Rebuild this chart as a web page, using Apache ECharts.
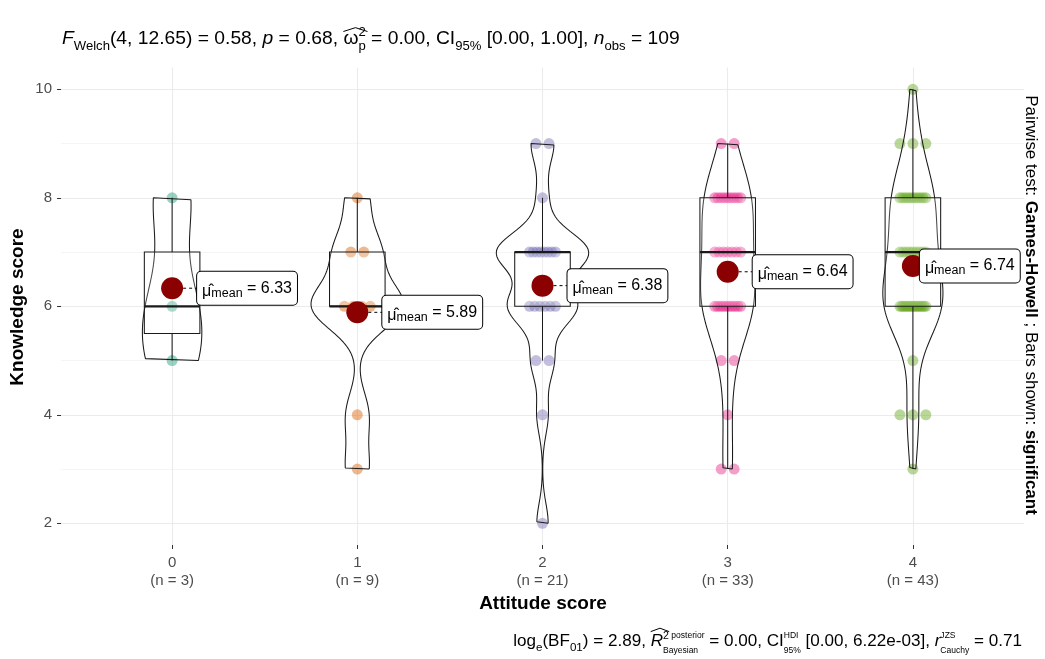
<!DOCTYPE html>
<html><head><meta charset="utf-8">
<script src="https://cdn.jsdelivr.net/npm/echarts@6/dist/echarts.min.js"></script>
<style>html,body{margin:0;padding:0;background:#fff}#c{width:1045px;height:659px}</style>
</head><body><div id="c"></div>
<script>
// ---------------- data ----------------
const categories = ['0', '1', '2', '3', '4'];
const group0 = [8, 6, 5];
const group1 = [8, 7, 7, 6, 6, 6, 6, 4, 3];
const group2 = [9, 9, 8, 7, 7, 7, 7, 7, 7, 7, 7, 6, 6, 6, 6, 6, 6, 5, 5, 4, 2];
const group3 = [9, 9, 8, 8, 8, 8, 8, 8, 8, 8, 8, 7, 7, 7, 7, 7, 7, 7,
                6, 6, 6, 6, 6, 6, 6, 6, 6, 6, 5, 5, 4, 3, 3];
const group4 = [10, 9, 9, 9, 8, 8, 8, 8, 8, 8, 8, 8, 8, 8, 7, 7, 7, 7, 7, 7, 7, 7, 7,
                6, 6, 6, 6, 6, 6, 6, 6, 6, 6, 6, 6, 6, 6, 6, 5, 4, 4, 4, 3];
const yTicks = [2, 4, 6, 8, 10];
const xTitle = 'Attitude score';
const yTitle = 'Knowledge score';

// ---------------- helpers ----------------
const groups = [group0, group1, group2, group3, group4];
const FONT = '"Liberation Sans", Arial, sans-serif';
const dark2 = ['#1B9E77', '#D95F02', '#7570B3', '#E7298A', '#66A61E'];
const LINE = '#1a1a1a';
const alpha = (hex, a) => {
  const n = parseInt(hex.slice(1), 16);
  return `rgba(${n >> 16},${(n >> 8) & 255},${n & 255},${a})`;
};
const mean = a => a.reduce((s, v) => s + v, 0) / a.length;
const sd = a => { const m = mean(a); return Math.sqrt(a.reduce((s, v) => s + (v - m) ** 2, 0) / (a.length - 1)); };
const q7 = (s, p) => { const h = (s.length - 1) * p, lo = Math.floor(h); return s[lo] + (h - lo) * (s[Math.min(lo + 1, s.length - 1)] - s[lo]); };
function bwNrd0(a) {
  const s = [...a].sort((x, y) => x - y);
  const hi = sd(a);
  let lo = Math.min(hi, (q7(s, .75) - q7(s, .25)) / 1.34);
  if (!(lo > 0)) lo = hi || 1;
  return 0.9 * lo * Math.pow(a.length, -0.2);
}
function kde(a, n) {
  const bw = bwNrd0(a), mn = Math.min(...a), mx = Math.max(...a), out = [];
  for (let k = 0; k < n; k++) {
    const y = mn + (mx - mn) * k / (n - 1);
    let d = 0;
    for (const v of a) { const z = (y - v) / bw; d += Math.exp(-0.5 * z * z); }
    out.push([y, d / (a.length * bw * Math.sqrt(2 * Math.PI))]);
  }
  return out;
}
function boxStats(a) {
  const s = [...a].sort((x, y) => x - y);
  const q1 = q7(s, .25), med = q7(s, .5), q3 = q7(s, .75), iqr = q3 - q1;
  const inside = s.filter(v => v >= q1 - 1.5 * iqr && v <= q3 + 1.5 * iqr);
  return [q1, med, q3, Math.min(...inside), Math.max(...inside)];
}

// ---------------- layout ----------------
const W = 1045, H = 659;
const L = 61, R = 1024, T = 67.6, B = 545;
const ux = (R - L) / 5.2, uy = (B - T) / 8.8;

// violins (scale = "area", width 0.5)
const dens = groups.map(g => kde(g, 256));
const maxD = Math.max(...dens.flat().map(p => p[1]));
const violinSeries = dens.map((d, i) => {
  const right = d.map(([y, v]) => [i + v / maxD * 0.25, y]);
  const left = d.slice().reverse().map(([y, v]) => [i - v / maxD * 0.25, y]);
  const pts = right.concat(left); pts.push(right[0]);
  return { type: 'line', xAxisIndex: 2, yAxisIndex: 2, data: pts, showSymbol: false, symbol: 'none',
    lineStyle: { color: LINE, width: 1.05 }, z: 3, silent: true, clip: false };
});

// jittered points (deterministic spread)
const pointSeries = groups.map((g, i) => {
  const counts = {};
  g.forEach(v => counts[v] = (counts[v] || 0) + 1);
  const data = [];
  Object.keys(counts).forEach(k => {
    const c = counts[k];
    const half = c === 1 ? 0 : Math.min(0.07, 0.035 * (c - 1));
    for (let j = 0; j < c; j++) {
      const off = c === 1 ? 0 : -half + 2 * half * j / (c - 1);
      data.push([i + off, +k]);
    }
  });
  return { type: 'scatter', xAxisIndex: 2, yAxisIndex: 2, data, symbolSize: 11,
    itemStyle: { color: alpha(dark2[i], 0.45), opacity: 1 }, z: 2, silent: true, clip: false };
});

const boxData = groups.map((g, i) => [i, ...boxStats(g)]);
const means = groups.map(g => mean(g));
const labelDx = [25, 25, 25, 25, 7];

const boxSeries = {
  type: 'custom', xAxisIndex: 2, yAxisIndex: 2, z: 4, silent: true, clip: false,
  data: boxData,
  renderItem(params, api) {
    const i = api.value(0), q1 = api.value(1), med = api.value(2), q3 = api.value(3), lo = api.value(4), hi = api.value(5);
    const a = api.coord([i - 0.15, q3]), b = api.coord([i + 0.15, q1]);
    const m0 = api.coord([i - 0.15, med]), m1 = api.coord([i + 0.15, med]);
    const c = api.coord([i, 0]);
    const yHi = api.coord([i, hi])[1], yLo = api.coord([i, lo])[1];
    const st = { stroke: LINE, lineWidth: 1.05, fill: null };
    return { type: 'group', children: [
      { type: 'rect', shape: { x: a[0], y: a[1], width: b[0] - a[0], height: b[1] - a[1] }, style: { fill: 'rgba(255,255,255,0.2)', stroke: LINE, lineWidth: 1.05 } },
      { type: 'line', shape: { x1: m0[0], y1: m0[1], x2: m1[0], y2: m1[1] }, style: { stroke: LINE, lineWidth: 2.2 } },
      { type: 'line', shape: { x1: c[0], y1: a[1], x2: c[0], y2: yHi }, style: st },
      { type: 'line', shape: { x1: c[0], y1: b[1], x2: c[0], y2: yLo }, style: st }
    ]};
  }
};

const meanSeries = {
  type: 'scatter', xAxisIndex: 2, yAxisIndex: 2, z: 5, silent: true,
  data: means.map((m, i) => [i, m]), symbolSize: 22, itemStyle: { color: '#8B0000', opacity: 1 }
};

const labelSeries = {
  type: 'custom', xAxisIndex: 2, yAxisIndex: 2, z: 6, silent: true, clip: false,
  data: means.map((m, i) => [i, m]),
  renderItem(params, api) {
    const i = api.value(0), m = api.value(1);
    const p = api.coord([i, m]);
    const dx = labelDx[i];
    return { type: 'group', children: [
      { type: 'line', shape: { x1: p[0] + 11, y1: p[1], x2: p[0] + dx, y2: p[1] }, style: { stroke: '#000', lineWidth: 1, lineDash: [3, 3] } },
      { type: 'text', x: p[0] + dx, y: p[1], z2: 10, style: {
        text: '{mu|\u03bc\u0302}{sb|mean}{v| = ' + m.toFixed(2) + '}',
        align: 'left', verticalAlign: 'middle',
        backgroundColor: '#fff', borderColor: '#000', borderWidth: 1, borderRadius: 4,
        padding: [5, 5, 5, 5],
        rich: {
          mu: { fontSize: 16, fontFamily: FONT, fill: '#000', padding: [6, 0, 0, 0] },
          sb: { fontSize: 12.5, fontFamily: FONT, fill: '#000', padding: [10, 0, 0, 0] },
          v: { fontSize: 16, fontFamily: FONT, fill: '#000' }
        }
      } }
    ]};
  }
};

// ---------------- math text ----------------
const mctx = document.createElement('canvas').getContext('2d');
function tw(t, size, it, b) { mctx.font = (it ? 'italic ' : '') + (b ? 'bold ' : '') + size + 'px ' + FONT; return mctx.measureText(t).width; }
function layoutMath(pieces, base) {
  let x = 0; const items = [], hats = [];
  for (const p of pieces) {
    const size = base * (p.s || 1);
    const w = tw(p.t, size, p.it, p.b);
    items.push({ t: p.t, x, dy: 0, size, it: p.it, b: p.b });
    if (p.hat) hats.push({ x0: x, w: w * (p.hatW || 1), size, top: p.hatTop || 0.8 });
    x += w;
    if (p.sup || p.sub) {
      let xs = x, xb = x;
      (p.sup || []).forEach(q => { const sz = base * (q.s || 0.68); items.push({ t: q.t, x: xs, dy: -(q.dy || 0.42) * base, size: sz, it: q.it }); xs += tw(q.t, sz, q.it); });
      (p.sub || []).forEach(q => { const sz = base * (q.s || 0.68); items.push({ t: q.t, x: xb, dy: (q.dy || 0.3) * base, size: sz, it: q.it }); xb += tw(q.t, sz, q.it); });
      x = Math.max(xs, xb);
    }
  }
  return { items, hats, width: x };
}
function mathGraphic(pieces, baseline, anchorX, align, targetW) {
  let base = 16;
  let lay = layoutMath(pieces, base);
  base = base * targetW / lay.width;
  lay = layoutMath(pieces, base);
  const x0 = align === 'right' ? anchorX - lay.width : anchorX;
  const els = lay.items.map(it => ({
    type: 'text', x: x0 + it.x, y: baseline + it.dy - 0.35 * it.size, silent: true,
    style: { text: it.t, fill: '#000', fontSize: it.size, fontFamily: FONT,
      fontStyle: it.it ? 'italic' : 'normal', fontWeight: it.b ? 'bold' : 'normal', align: 'left', verticalAlign: 'middle' }
  }));
  lay.hats.forEach(h => {
    const top = baseline - h.top * h.size;
    els.push({ type: 'polyline', silent: true,
      shape: { points: [[x0 + h.x0, top], [x0 + h.x0 + h.w / 2, top - 0.2 * h.size], [x0 + h.x0 + h.w, top]] },
      style: { stroke: '#000', lineWidth: 1, fill: null } });
  });
  return els;
}

const titlePieces = [
  { t: 'F', it: true, sub: [{ t: 'Welch' }] },
  { t: '(4, 12.65) = 0.58, ' },
  { t: 'p', it: true },
  { t: ' = 0.68, ' },
  { t: '\u03c9', hat: true, hatTop: 0.7, hatW: 1.6, sup: [{ t: '2' }], sub: [{ t: 'p' }] },
  { t: ' = 0.00, CI', sub: [{ t: '95%' }] },
  { t: ' [0.00, 1.00], ' },
  { t: 'n', it: true, sub: [{ t: 'obs' }] },
  { t: ' = 109' }
];
const captionPieces = [
  { t: 'log', sub: [{ t: 'e' }] },
  { t: '(BF', sub: [{ t: '01' }] },
  { t: ') = 2.89, ' },
  { t: 'R', it: true, hat: true, hatTop: 0.9, hatW: 1.5, sup: [{ t: '2', s: 0.62 }, { t: ' posterior', s: 0.5, dy: 0.5 }], sub: [{ t: 'Bayesian', s: 0.5, dy: 0.38 }] },
  { t: ' = 0.00, CI', sup: [{ t: 'HDI', s: 0.5, dy: 0.5 }], sub: [{ t: '95%', s: 0.5, dy: 0.38 }] },
  { t: ' [0.00, 6.22e-03], ' },
  { t: 'r', it: true, sup: [{ t: 'JZS', s: 0.5, dy: 0.5 }], sub: [{ t: 'Cauchy', s: 0.5, dy: 0.38 }] },
  { t: ' = 0.71' }
];

// right caption size fit
const rcN1 = 'Pairwise test: ', rcB1 = 'Games-Howell', rcN2 = ' ; Bars shown: ', rcB2 = 'significant';
const rcW0 = tw(rcN1, 16) + tw(rcB1, 16, false, true) + tw(rcN2, 16) + tw(rcB2, 16, false, true);
const rcSize = 16 * 420 / rcW0;

const graphics = [
  ...mathGraphic(titlePieces, 45, 62, 'left', 618),
  ...mathGraphic(captionPieces, 647, 1022, 'right', 509),
  { type: 'text', x: 1031, y: 305, rotation: -Math.PI / 2, silent: true,
    style: { text: `{n|${rcN1}}{b|${rcB1}}{n|${rcN2}}{b|${rcB2}}`, align: 'center', verticalAlign: 'middle',
      rich: { n: { fontSize: rcSize, fontFamily: FONT, fill: '#000' }, b: { fontSize: rcSize, fontFamily: FONT, fontWeight: 'bold', fill: '#000' } } } },
  { type: 'text', x: 543, y: 604, silent: true,
    style: { text: xTitle, fontSize: 19, fontWeight: 'bold', fontFamily: FONT, fill: '#000', align: 'center', verticalAlign: 'middle' } },
  { type: 'text', x: 18, y: 307, rotation: Math.PI / 2, silent: true,
    style: { text: yTitle, fontSize: 19, fontWeight: 'bold', fontFamily: FONT, fill: '#000', align: 'center', verticalAlign: 'middle' } }
];

const chart = echarts.init(document.getElementById('c'), null, { renderer: 'canvas' });
chart.setOption({
  animation: false,
  backgroundColor: '#fff',
  grid: [
    { left: L + 0.6 * ux, right: W - (R - 0.6 * ux), top: T, bottom: H - B, containLabel: false, outerBoundsMode: 'none' },
    { left: L, right: W - R, top: T + 0.4 * uy, bottom: H - (B - 0.4 * uy), containLabel: false, outerBoundsMode: 'none' },
    { left: L, right: W - R, top: T, bottom: H - B, containLabel: false, outerBoundsMode: 'none' }
  ],
  xAxis: [
    { gridIndex: 0, type: 'value', min: 0, max: categories.length - 1, interval: 1,
      axisLine: { show: false },
      axisTick: { show: true, length: 4, lineStyle: { color: '#333', width: 1 } },
      axisLabel: { margin: 9, fontSize: 15, lineHeight: 18, color: '#4D4D4D', fontFamily: FONT,
        formatter: v => `${categories[v]}\n(n = ${groups[v].length})` },
      splitLine: { show: true, lineStyle: { color: '#EBEBEB', width: 1.1 } } },
    { gridIndex: 1, type: 'value', min: 0, max: 1, show: false },
    { gridIndex: 2, type: 'value', min: -0.6, max: categories.length - 0.4, show: false }
  ],
  yAxis: [
    { gridIndex: 0, type: 'value', min: 0, max: 1, show: false },
    { gridIndex: 1, type: 'value', min: yTicks[0], max: yTicks[yTicks.length - 1], interval: yTicks[1] - yTicks[0],
      axisLine: { show: false },
      axisTick: { show: true, length: 4, lineStyle: { color: '#333', width: 1 } },
      axisLabel: { margin: 9, fontSize: 15, color: '#4D4D4D', fontFamily: FONT },
      splitLine: { show: true, lineStyle: { color: '#EBEBEB', width: 1.1 } },
      minorTick: { show: false, splitNumber: 2 },
      minorSplitLine: { show: true, lineStyle: { color: '#EFEFEF', width: 0.6 } } },
    { gridIndex: 2, type: 'value', min: 1.6, max: 10.4, show: false }
  ],
  graphic: graphics,
  series: [...pointSeries, ...violinSeries, boxSeries, meanSeries, labelSeries]
});
</script>
</body></html>
